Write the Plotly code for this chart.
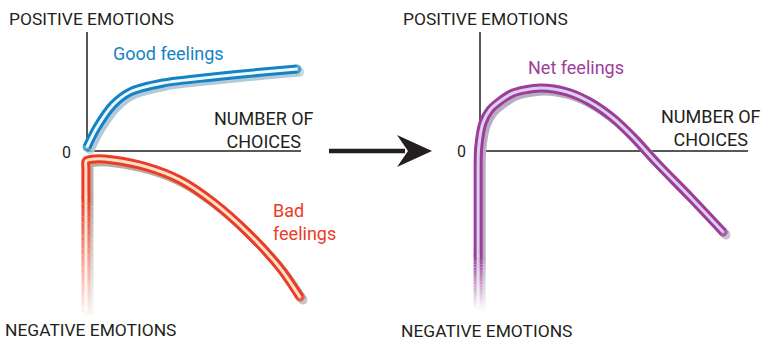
import plotly.graph_objects as go

W, H = 770, 341

# left panel: x = number of choices (0..10), y = emotions (+ up / - down)
good_x = [0.0, 0.45, 1.21, 2.01, 3.55, 5.89, 8.22, 9.81]
good_y = [0.4, 2.3, 4.6, 5.9, 6.8, 7.4, 7.9, 8.2]

bad_x = [-0.05, -0.05, -0.04, 0.35, 1.21, 2.80, 4.35, 5.89, 7.48, 9.02, 9.95]
bad_y = [-16.1, -1.8, -1.0, -0.8, -0.9, -1.6, -2.9, -5.1, -8.1, -11.7, -14.6]

# right panel
net_x = [-0.07, -0.07, -0.05, 0.11, 0.37, 0.70, 1.23, 2.24, 3.25, 4.10, 4.96, 5.71, 6.60, 7.84, 9.07]
net_y = [-15.6, -1.9, 0.3, 2.8, 4.1, 4.9, 5.8, 6.3, 5.9, 4.9, 3.3, 1.4, -1.2, -4.6, -8.1]

DARK = "#231f20"
BLUE, BLUE_IN, BLUE_SH = "#1483c6", "#eef7fc", "#b4cbd7"
RED, RED_IN, RED_SH = "#ec3b26", "#fde2c9", "#b8aca1"
PURP, PURP_IN, PURP_SH = "#9e3d99", "#d9d2ec", "#b9adc2"
FONT = "Roboto, Arial, sans-serif"


def hex_rgb(c):
    c = c.lstrip("#")
    return [int(c[i:i + 2], 16) for i in (0, 2, 4)]


def fade(c, t):
    r, g, b = hex_rgb(c)
    return "rgb(%d,%d,%d)" % (r + (255 - r) * t, g + (255 - g) * t, b + (255 - b) * t)


def panel_x(x0_px, x10_px, left_px, right_px):
    k = (x10_px - x0_px) / 10
    return k, dict(domain=[left_px / W, right_px / W],
                   range=[(left_px - x0_px) / k, (right_px - x0_px) / k])


Y0_PX, YK = 151, 10.0
y_axis = dict(domain=[1 - 333 / H, 1 - 10 / H],
              range=[(Y0_PX - 333) / YK, (Y0_PX - 10) / YK])

kl, xl = panel_x(87, 301, 60, 320)
kr, xr = panel_x(480, 748, 445, 765)

fig = go.Figure()


def line(xs, ys, color, width, xa, ya, caps=True):
    fig.add_trace(go.Scatter(
        x=xs, y=ys, mode="lines+markers" if caps else "lines",
        line=dict(color=color, width=width, shape="spline", smoothing=0.8),
        marker=dict(size=[width if i in (0, len(xs) - 1) else 0 for i in range(len(xs))],
                    color=color, line=dict(width=0)),
        xaxis=xa, yaxis=ya, hoverinfo="skip", showlegend=False,
    ))


def curve(xs, ys, color, inner, shadow, k, xa, ya, fade_from=None, fade_to=0.94):
    dx, dy = 3.0 / k, -3.0 / YK
    xs, ys = list(xs), list(ys)
    tail = None
    if fade_from is not None:
        # first point is the bottom of a vertical tail, drawn as a fading stroke
        tail = (xs[0], ys[0])
        xs[0], ys[0] = xs[1], fade_from
    for c, w, ox, oy in ((shadow, 9, dx, dy), (color, 9, 0, 0), (inner, 3, 0, 0)):
        px = [v + ox for v in xs]
        py = [v + oy for v in ys]
        if tail is not None:
            n = 18
            top, bot = fade_from, tail[1]
            for i in range(n):
                y_a = top + (bot - top) * i / n
                y_b = top + (bot - top) * (i + 1) / n
                line([tail[0] + ox] * 2, [y_a + oy, y_b + oy], fade(c, fade_to * (i + 0.5) / n),
                     w, xa, ya, caps=False)
        line(px, py, c, w, xa, ya, caps=True)


curve(bad_x, bad_y, RED, RED_IN, RED_SH, kl, "x", "y", fade_from=-4.6)
curve(good_x, good_y, BLUE, BLUE_IN, BLUE_SH, kl, "x", "y")
curve(net_x, net_y, PURP, PURP_IN, PURP_SH, kr, "x2", "y2", fade_from=-10.5)

# overlay canvas for labels and the arrow
fig.add_trace(go.Scatter(x=[], y=[], xaxis="x3", yaxis="y3", showlegend=False))

shapes = []
for xa, ya in (("x", "y"), ("x2", "y2")):
    shapes.append(dict(type="line", xref=xa, yref=ya, x0=0, x1=0, y0=0, y1=11.9,
                       line=dict(color=DARK, width=1.5), layer="below"))
    shapes.append(dict(type="line", xref=xa, yref=ya, x0=0, x1=10, y0=0, y1=0,
                       line=dict(color=DARK, width=1.5), layer="below"))
shapes.append(dict(type="line", xref="x3", yref="y3", x0=329, x1=405, y0=151, y1=151,
                   line=dict(color=DARK, width=4.5)))
shapes.append(dict(type="path", xref="x3", yref="y3",
                   path="M 432 151 L 397 135 L 408 151 L 397 167 Z",
                   fillcolor=DARK, line=dict(color=DARK, width=0)))


def label(x, y, text, color=DARK, size=17.4, anchor="left"):
    return dict(x=x, y=y, xref="x3", yref="y3", text=text, showarrow=False,
                xanchor=anchor, yanchor="middle", align="center", borderpad=0,
                font=dict(family=FONT, size=size, color=color))


annotations = [
    label(8, 19, "POSITIVE EMOTIONS"),
    label(4, 330, "NEGATIVE EMOTIONS"),
    label(264, 130, "NUMBER OF<br>CHOICES", size=18, anchor="center"),
    label(66, 152, "0", size=16, anchor="center"),
    label(112, 53, "Good feelings", color=BLUE, size=18),
    label(272, 222, "Bad<br>feelings", color=RED, size=18),
    label(402, 19, "POSITIVE EMOTIONS"),
    label(400, 331, "NEGATIVE EMOTIONS"),
    label(711, 128, "NUMBER OF<br>CHOICES", size=18, anchor="center"),
    label(461, 151, "0", size=16, anchor="center"),
    label(527, 67, "Net feelings", color=PURP, size=18),
]
annotations[5]["align"] = "left"

hidden = dict(visible=False, fixedrange=True)
fig.update_layout(
    width=W, height=H,
    margin=dict(l=0, r=0, t=0, b=0),
    paper_bgcolor="white", plot_bgcolor="rgba(0,0,0,0)",
    xaxis=dict(xl, anchor="y", **hidden),
    yaxis=dict(y_axis, anchor="x", **hidden),
    xaxis2=dict(xr, anchor="y2", **hidden),
    yaxis2=dict(y_axis, anchor="x2", **hidden),
    xaxis3=dict(domain=[0, 1], range=[0, W], anchor="y3", **hidden),
    yaxis3=dict(domain=[0, 1], range=[H, 0], anchor="x3", **hidden),
    shapes=shapes,
    annotations=annotations,
    showlegend=False,
)

# the page body has a default margin; remove it so the figure sits at the window origin
fig.write_html("out.html", config={"displayModeBar": False},
               post_script="document.body.style.margin='0';")
